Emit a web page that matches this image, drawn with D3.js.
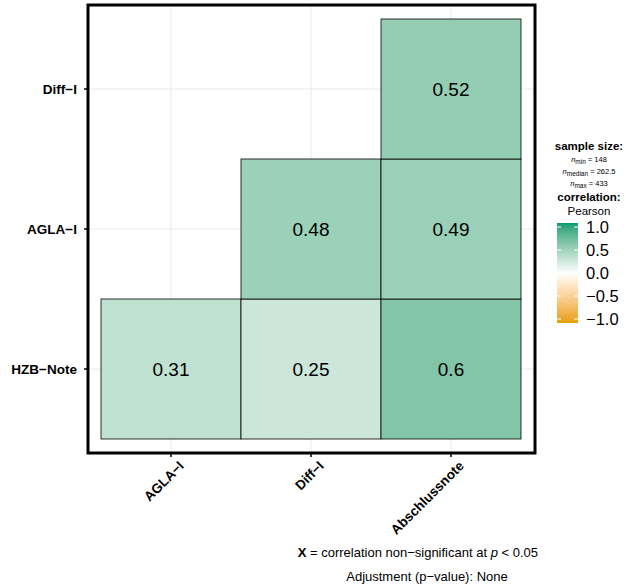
<!DOCTYPE html>
<html>
<head>
<meta charset="utf-8">
<script src="https://cdn.jsdelivr.net/npm/d3@7"></script>
<style>
  body { margin: 0; background: #fff; }
  svg { font-family: "Liberation Sans", Arial, sans-serif; }
</style>
</head>
<body>
<div id="root"></div>
<script>
const xVars = ["AGLA\u2212I", "Diff\u2212I", "Abschlussnote"];
const yVars = ["HZB\u2212Note", "AGLA\u2212I", "Diff\u2212I"];
// lower-triangle correlations [x, y, r]
const cells = [
  ["AGLA\u2212I", "HZB\u2212Note", 0.31],
  ["Diff\u2212I", "HZB\u2212Note", 0.25],
  ["Abschlussnote", "HZB\u2212Note", 0.6],
  ["Diff\u2212I", "AGLA\u2212I", 0.48],
  ["Abschlussnote", "AGLA\u2212I", 0.49],
  ["Abschlussnote", "Diff\u2212I", 0.52]
];
const legendTicks = [1.0, 0.5, 0.0, -0.5, -1.0];
const sampleSize = { min: 148, median: 262.5, max: 433 };

const width = 627, height = 587;
const panel = { left: 88, right: 535, top: 5, bottom: 453 };

const svg = d3.select("#root").append("svg")
  .attr("width", width).attr("height", height);

const x = d3.scaleBand().domain(xVars).range([101, 521]);
const y = d3.scaleBand().domain(yVars.slice().reverse()).range([19, 439]);

const color = d3.scaleLinear()
  .domain([-1, 0, 1])
  .range(["#E69F00", "#ffffff", "#009E73"])
  .interpolate(d3.interpolateLab);

// grid
const grid = svg.append("g").attr("stroke", "#ebebeb").attr("stroke-width", 1);
xVars.forEach(v => {
  const cx = x(v) + x.bandwidth() / 2;
  grid.append("line").attr("x1", cx).attr("x2", cx)
    .attr("y1", panel.top).attr("y2", panel.bottom);
});
yVars.forEach(v => {
  const cy = y(v) + y.bandwidth() / 2;
  grid.append("line").attr("x1", panel.left).attr("x2", panel.right)
    .attr("y1", cy).attr("y2", cy);
});

// tiles
const tiles = svg.append("g");
tiles.selectAll("rect").data(cells).join("rect")
  .attr("x", d => x(d[0]))
  .attr("y", d => y(d[1]))
  .attr("width", x.bandwidth())
  .attr("height", y.bandwidth())
  .attr("fill", d => color(d[2]))
  .attr("stroke", "#000")
  .attr("stroke-width", 0.8);

tiles.selectAll("text").data(cells).join("text")
  .attr("x", d => x(d[0]) + x.bandwidth() / 2)
  .attr("y", d => y(d[1]) + y.bandwidth() / 2)
  .attr("text-anchor", "middle")
  .attr("dominant-baseline", "central")
  .attr("font-size", 19)
  .text(d => d[2]);

// panel border
svg.append("rect")
  .attr("x", panel.left).attr("y", panel.top)
  .attr("width", panel.right - panel.left)
  .attr("height", panel.bottom - panel.top)
  .attr("fill", "none").attr("stroke", "#000").attr("stroke-width", 3);

// y axis
yVars.forEach(v => {
  const cy = y(v) + y.bandwidth() / 2;
  svg.append("line").attr("x1", panel.left - 4).attr("x2", panel.left)
    .attr("y1", cy).attr("y2", cy).attr("stroke", "#000").attr("stroke-width", 1.5);
  svg.append("text").attr("x", panel.left - 11).attr("y", cy)
    .attr("text-anchor", "end").attr("dominant-baseline", "central")
    .attr("font-size", 13.5).attr("font-weight", "bold").text(v);
});

// x axis
xVars.forEach(v => {
  const cx = x(v) + x.bandwidth() / 2;
  svg.append("line").attr("x1", cx).attr("x2", cx)
    .attr("y1", panel.bottom).attr("y2", panel.bottom + 4)
    .attr("stroke", "#000").attr("stroke-width", 1.5);
  svg.append("text")
    .attr("transform", `translate(${cx + 7},${panel.bottom + 7}) rotate(-45)`)
    .attr("text-anchor", "end").attr("dominant-baseline", "hanging")
    .attr("font-size", 13.5).attr("font-weight", "bold").text(v);
});

// legend
const lg = svg.append("g");
const lx = 589;
lg.append("text").attr("x", lx).attr("y", 150).attr("text-anchor", "middle")
  .attr("font-size", 11.5).attr("font-weight", "bold").text("sample size:");
[["min", sampleSize.min, 162], ["median", sampleSize.median, 174], ["max", sampleSize.max, 186]]
  .forEach(([k, val, yy]) => {
    const t = lg.append("text").attr("x", lx).attr("y", yy)
      .attr("text-anchor", "middle").attr("font-size", 7.5);
    t.append("tspan").attr("font-style", "italic").text("n");
    t.append("tspan").attr("font-size", 6.5).attr("dy", 1.5).text(k);
    t.append("tspan").attr("dy", -1.5).text(" = " + val);
  });
lg.append("text").attr("x", lx).attr("y", 201).attr("text-anchor", "middle")
  .attr("font-size", 11.5).attr("font-weight", "bold").text("correlation:");
lg.append("text").attr("x", lx).attr("y", 215).attr("text-anchor", "middle")
  .attr("font-size", 11.5).text("Pearson");

const ls = d3.scaleLinear().domain([-1, 1]).range([319, 227]);
const grad = svg.append("defs").append("linearGradient")
  .attr("id", "cgrad").attr("x1", 0).attr("x2", 0).attr("y1", 1).attr("y2", 0);
d3.range(-1, 1.0001, 0.1).forEach(v => {
  grad.append("stop").attr("offset", (v + 1) / 2).attr("stop-color", color(v));
});
lg.append("rect").attr("x", 557).attr("y", ls(1) - 4)
  .attr("width", 21).attr("height", ls(-1) - ls(1) + 8)
  .attr("fill", "url(#cgrad)");
legendTicks.forEach(v => {
  lg.append("line").attr("x1", 557).attr("x2", 561).attr("y1", ls(v)).attr("y2", ls(v))
    .attr("stroke", "#fff").attr("stroke-width", 1);
  lg.append("line").attr("x1", 574).attr("x2", 578).attr("y1", ls(v)).attr("y2", ls(v))
    .attr("stroke", "#fff").attr("stroke-width", 1);
  lg.append("text").attr("x", 586).attr("y", ls(v)).attr("dominant-baseline", "central")
    .attr("font-size", 16.5).text(d3.format(".1f")(v).replace("-", "\u2212"));
});

// caption
const cap = svg.append("text").attr("x", 538).attr("y", 557)
  .attr("text-anchor", "end").attr("font-size", 13);
cap.append("tspan").attr("font-weight", "bold").text("X");
cap.append("tspan").text(" = correlation non\u2212significant at ");
cap.append("tspan").attr("font-style", "italic").text("p");
cap.append("tspan").text(" < 0.05");
svg.append("text").attr("x", 427).attr("y", 581).attr("text-anchor", "middle")
  .attr("font-size", 13).text("Adjustment (p\u2212value): None");
</script>
</body>
</html>
